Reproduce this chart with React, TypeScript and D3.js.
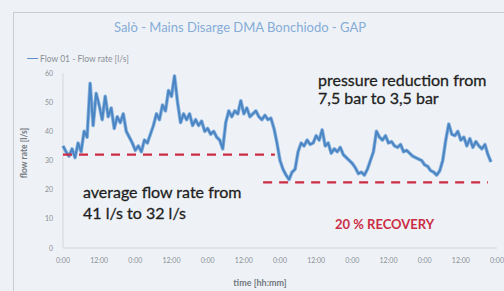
import React from "react";
import * as d3 from "d3";

// hourly flow rate [l/s], six days from 0:00
const flowRate = [
  35, 33, 31.5, 34, 31, 36, 33, 40, 38, 56.5, 42, 53, 49, 44, 52, 45, 48, 41, 45, 43,
  46, 40, 38, 36, 33.5, 35, 33, 37, 36, 39, 42, 46, 44, 49, 47, 54, 52, 59, 50, 43,
  46, 44, 46, 42, 44, 42, 43.5, 40, 41, 39, 40, 38, 37, 34, 43, 47, 45, 47, 46, 50.5,
  46, 48, 45, 46, 47, 45, 44, 45.5, 44, 44.5, 41, 36, 30, 27, 25, 23.5, 26, 27, 33, 36,
  35, 37, 35.5, 36, 38.5, 37, 40.5, 35, 36, 32.5, 34, 33, 34.5, 32, 31, 30, 29, 27.5, 25.5, 26,
  25, 27, 30, 33, 40, 38, 37, 38.5, 36, 36.5, 35, 34.5, 35.5, 33, 33.5, 32.5, 31.5, 31, 30.5, 30,
  28.5, 28, 26.5, 26, 25, 26.5, 30, 37, 42.5, 39, 38.5, 40, 37, 38, 35, 37.5, 34.5, 36.5, 35, 34,
  35.5, 32, 29.5,
];
const hours = flowRate.map((_, i) => i);

const yTicks = [0, 10, 20, 30, 40, 50, 60];
const xTicks = [0, 12, 24, 36, 48, 60, 72, 84, 96, 108, 120, 132, 144];
const xTickLabels = xTicks.map((h) => (h % 24 === 0 ? "0:00" : "12:00"));

// average levels before / after pressure reduction: [value, from hour, to hour]
const avgBefore = [32, 0, 70.3];
const avgAfter = [22.5, 66.4, 141];

const title = "Salò - Mains Disarge DMA Bonchiodo - GAP";
const legendLabel = "Flow 01 - Flow rate [l/s]";

export default function App() {
  const W = 504;
  const H = 291;
  const x = d3.scaleLinear().domain([0, 144]).range([63, 497]);
  const y = d3.scaleLinear().domain([0, 60]).range([248, 73]);

  const line = d3
    .line<number>()
    .x((_, i) => x(hours[i]))
    .y((d) => y(d));

  const font = "Lato, 'Open Sans', sans-serif";
  const path = line(flowRate) || "";

  return (
    <svg
      width={W}
      height={H}
      style={{ position: "absolute", left: 0, top: 0, background: "#eef2f6" }}
    >
      <line x1={13} x2={504} y1={12.5} y2={12.5} stroke="#c9cdd2" strokeWidth={1} />
      <line x1={13.5} x2={13.5} y1={12} y2={291} stroke="#c9cdd2" strokeWidth={1} />

      <text x={240} y={32} textAnchor="middle" fontFamily={font} fontSize={13} fill="#86acd8">
        {title}
      </text>

      <line x1={27} x2={38} y1={58.5} y2={58.5} stroke="#5b8fc9" strokeWidth={1} />
      <text x={40} y={61.5} fontFamily={font} fontSize={8.5} fill="#8a8f96">
        {legendLabel}
      </text>

      {/* axes */}
      <line x1={x(0)} x2={x(0)} y1={y(60)} y2={y(0)} stroke="#d3d7dc" />
      <line x1={x(0)} x2={x(144)} y1={y(0)} y2={y(0)} stroke="#d3d7dc" />
      {yTicks.map((t) => (
        <text
          key={t}
          x={53}
          y={y(t) + 2.5}
          textAnchor="end"
          fontFamily={font}
          fontSize={7}
          fill="#8a8f96"
        >
          {t}
        </text>
      ))}
      {xTicks.map((t, i) => (
        <text
          key={t}
          x={x(t)}
          y={263}
          textAnchor="middle"
          fontFamily={font}
          fontSize={7}
          fill="#8a8f96"
        >
          {xTickLabels[i]}
        </text>
      ))}
      <text x={260} y={286} textAnchor="middle" fontFamily={font} fontSize={9} fontWeight={700} fill="#737880">
        time [hh:mm]
      </text>
      <text
        transform={`translate(27,153) rotate(-90)`}
        textAnchor="middle"
        fontFamily={font}
        fontSize={8.5}
        fontWeight={700}
        fill="#737880"
      >
        flow rate [l/s]
      </text>

      {/* series */}
      <path d={path} fill="none" stroke="#8fb5de" strokeWidth={3.6} strokeLinejoin="round" />
      <path d={path} fill="none" stroke="#4a85c4" strokeWidth={2} strokeLinejoin="round" />

      {[avgBefore, avgAfter].map(([v, a, b], i) => (
        <line
          key={i}
          x1={x(a)}
          x2={x(b)}
          y1={y(v)}
          y2={y(v)}
          stroke="#cc2d45"
          strokeWidth={2.3}
          strokeDasharray="9,7"
        />
      ))}

      {/* annotations */}
      <g fontFamily={font} fontSize={16} fill="#1f1f1f" stroke="#1f1f1f" strokeWidth={0.3}>
        <text x={318} y={86}>pressure reduction from</text>
        <text x={318} y={104}>7,5 bar to 3,5 bar</text>
        <text x={83} y={198}>average flow rate from</text>
        <text x={83} y={219}>41 l/s to 32 l/s</text>
      </g>
      <text fontFamily={font} fontSize={13} fontWeight={700} fill="#cc2d45" x={335} y={229}>
        20 % RECOVERY
      </text>
    </svg>
  );
}
